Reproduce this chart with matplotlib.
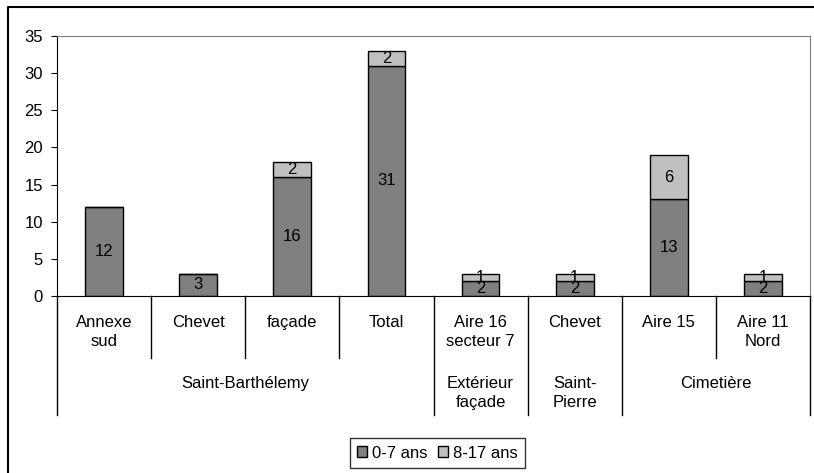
import matplotlib.pyplot as plt
from matplotlib.lines import Line2D
import matplotlib.transforms as mtransforms

plt.rcParams["font.family"] = ["Liberation Sans", "DejaVu Sans"]

# data
sites = ["Annexe\nsud", "Chevet", "façade", "Total", "Aire 16\nsecteur 7",
         "Chevet", "Aire 15", "Aire 11\nNord"]
groups = ["Saint-Barthélemy", "Extérieur\nfaçade", "Saint-\nPierre", "Cimetière"]
group_sizes = [4, 1, 1, 2]
young = [12, 3, 16, 31, 2, 2, 13, 2]      # 0-7 ans
older = [0, 0, 2, 2, 1, 1, 6, 1]          # 8-17 ans

fig = plt.figure(figsize=(8.14, 4.73), dpi=100)
W, H = 814, 473
ax = fig.add_axes([57 / W, 1 - 296 / H, (810 - 57) / W, (296 - 36) / H])

x = list(range(len(sites)))
ax.bar(x, young, width=0.4, color="#808080", edgecolor="black", linewidth=1,
       label="0-7 ans")
ax.bar(x, older, width=0.4, bottom=young, color="#c0c0c0", edgecolor="black",
       linewidth=1, label="8-17 ans")

# data labels
for i in x:
    ax.text(i, young[i] / 2, str(young[i]), ha="center", va="center", fontsize=12)
    if older[i]:
        ax.text(i, young[i] + older[i] / 2, str(older[i]), ha="center",
                va="center", fontsize=12)

ax.set_xlim(-0.5, len(sites) - 0.5)
ax.set_ylim(0, 35)
ax.set_yticks(range(0, 36, 5))
ax.tick_params(axis="y", direction="out", length=4, labelsize=12, pad=6)
ax.set_xticks([])
ax.spines["top"].set_color("#808080")
ax.spines["right"].set_color("#808080")
ax.spines["left"].set_color("black")
ax.spines["bottom"].set_color("black")

# two-level category axis
trans = mtransforms.blended_transform_factory(ax.transData, fig.transFigure)
y0 = 1 - 296 / H
y_short = 1 - 358 / H
y_long = 1 - 415 / H
group_edges = [-0.5]
for s in group_sizes:
    group_edges.append(group_edges[-1] + s)
for b in range(len(sites) + 1):
    pos = b - 0.5
    bottom = y_long if pos in group_edges else y_short
    fig.add_artist(Line2D([pos, pos], [y0, bottom], transform=trans,
                          color="black", linewidth=1))
for i, s in enumerate(sites):
    fig.text(i, 1 - 315 / H, s, transform=trans, ha="center", va="top",
             fontsize=12, linespacing=1.35)
for g, name in enumerate(groups):
    mid = (group_edges[g] + group_edges[g + 1]) / 2
    fig.text(mid, 1 - 376 / H, name, transform=trans, ha="center", va="top",
             fontsize=12, linespacing=1.35)

leg = fig.legend(loc="center", bbox_to_anchor=(437.5 / W, 1 - 453 / H),
                 ncol=2, fontsize=12, frameon=True, fancybox=False,
                 handlelength=0.6, handleheight=0.6, handletextpad=0.3,
                 columnspacing=0.6, borderpad=0.45)
leg.get_frame().set_edgecolor("black")
leg.get_frame().set_linewidth(1)

# outer chart border (only top and left visible in the crop)
fig.add_artist(Line2D([8 / W, 8 / W, 1], [0, 1 - 7 / H, 1 - 7 / H],
                      transform=fig.transFigure, color="black", linewidth=1.5))

fig.savefig("out.png", dpi=100)
